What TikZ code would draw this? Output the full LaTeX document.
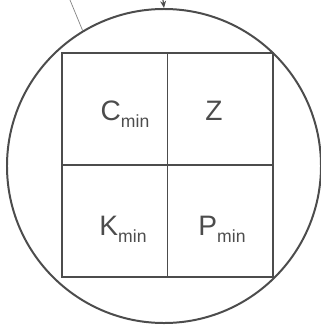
\documentclass[tikz,border=0pt]{standalone}
\usepackage{fontspec}
\setmainfont{Liberation Sans}
\usetikzlibrary{arrows.meta,positioning,shapes}

\definecolor{pencil}{gray}{0.3}
\newcommand{\sublbl}[2]{#1\raisebox{-0.5ex}{\fontsize{15}{16}\selectfont #2}}

\begin{document}
\begin{tikzpicture}[x=0.03cm,y=-0.03cm,
  cell/.style={draw=pencil,line width=1pt,minimum width=3.165cm,minimum height=3.36cm,inner sep=0pt},
  txt/.style={anchor=base,inner sep=0pt,text=pencil,font=\fontsize{24}{27}\selectfont}]
\useasboundingbox (0,0) rectangle (321,325);
\node[draw=pencil,circle,line width=1.7pt,minimum size=9.42cm,inner sep=0pt] (ring) at (164,166) {};
\node[cell] (c1) at (114.75,109) {};
\node[cell] (c2) at (220.25,109) {};
\node[cell] (c3) at (114.75,221) {};
\node[cell] (c4) at (220.25,221) {};
\node[txt] (cmin) at (125,120) {\sublbl{C}{min}};
\node[txt] (z) at (214,120) {Z};
\node[txt] (kmin) at (123,235) {\sublbl{K}{min}};
\node[txt] (pmin) at (222,235) {\sublbl{P}{min}};
\coordinate (arrtop) at (163,0);
\coordinate (stub) at (70,0);
\draw[pencil,line width=1pt,-{Stealth[length=6pt,width=5pt]}] (arrtop) -- (ring.north);
\draw[pencil!70,line width=0.6pt] (stub) -- (ring.121);
\end{tikzpicture}
\end{document}
